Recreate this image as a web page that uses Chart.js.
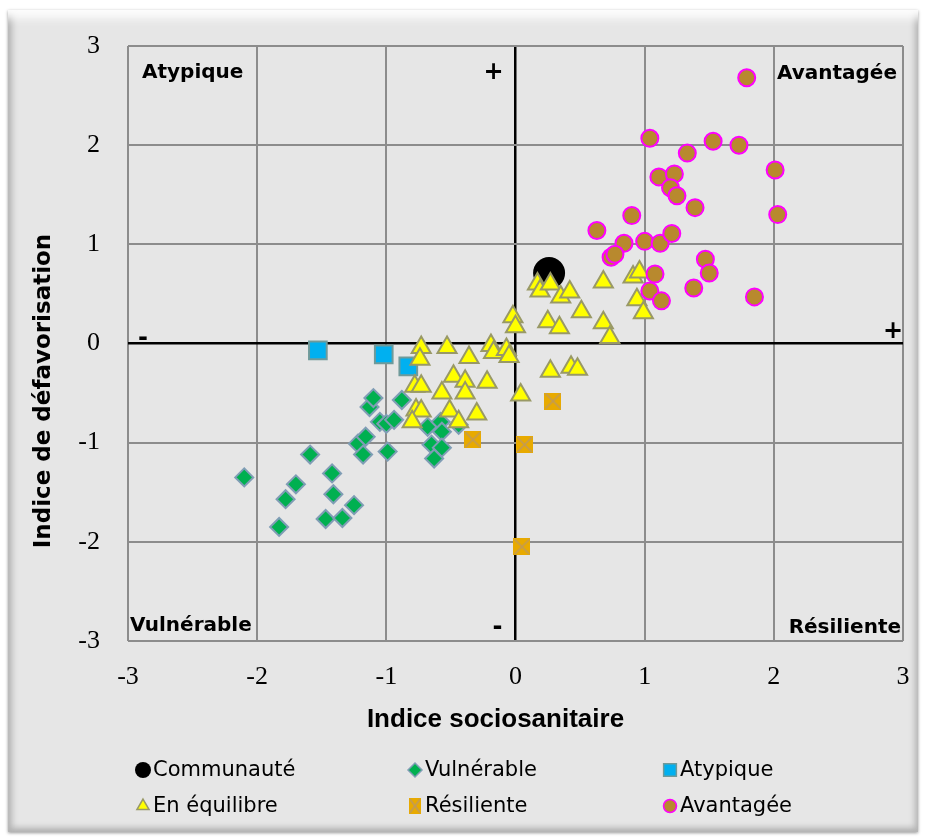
<!DOCTYPE html>
<html>
<head>
<meta charset="utf-8">
<script src="https://cdn.jsdelivr.net/npm/chart.js@4"></script>
<style>
  html, body { margin: 0; padding: 0; background: #fff; }
  #frame {
    position: absolute; left: 8px; top: 10px; width: 910px; height: 822px;
    background: #e6e6e6;
    box-shadow: inset 0 16px 10px -8px #fdfdfd, inset 7px 0 6px -3px #b4b4b4,
                inset -6px 0 6px -3px #b4b4b4, inset 0 -7px 6px -3px #b0b0b0,
                0 1px 3px #999;
  }
  #chart { position: absolute; left: 0; top: 0; }
</style>
</head>
<body>
<div id="frame"></div>
<canvas id="chart" width="927" height="838"></canvas>
<script>
// values
const communauteX = [0.26];
const communauteY = [0.71];

const vulnerableX = [-2.10, -1.83, -1.78, -1.70, -1.59, -1.42, -1.41, -1.47, -1.34, -1.25, -1.22, -1.16, -1.18, -1.13,
  -1.10, -1.05, -1.00, -0.94, -0.99, -0.88, -0.68, -0.58, -0.57, -0.65, -0.57, -0.63, -0.44];
const vulnerableY = [-1.35, -1.85, -1.57, -1.42, -1.12, -1.31, -1.52, -1.77, -1.76, -1.63, -1.01, -0.94, -1.12, -0.64,
  -0.55, -0.79, -0.81, -0.77, -1.09, -0.57, -0.84, -0.79, -0.89, -1.02, -1.05, -1.16, -0.82];

const atypiqueX = [-1.53, -1.02, -0.83];
const atypiqueY = [-0.07, -0.11, -0.23];

const equilibreX = [-0.73, -0.74, -0.53, -0.36, -0.19, -0.17, -0.07, -0.05, -0.02, 0.00, -0.78, -0.73, -0.48, -0.39,
  -0.39, -0.57, -0.22, -0.77, -0.73, -0.80, -0.51, -0.44, -0.30, 0.04, 0.27, 0.43, 0.48, 0.17, 0.19, 0.27, 0.35,
  0.42, 0.51, 0.25, 0.34, 0.68, 0.68, 0.73, 0.91, 0.96, 0.94, 0.99];
const equilibreY = [-0.04, -0.16, -0.04, -0.14, -0.02, -0.09, -0.06, -0.13, 0.27, 0.17, -0.43, -0.43, -0.33, -0.38,
  -0.50, -0.50, -0.39, -0.67, -0.68, -0.79, -0.68, -0.79, -0.71, -0.52, -0.28, -0.24, -0.26, 0.60, 0.53, 0.60, 0.47,
  0.52, 0.32, 0.22, 0.16, 0.62, 0.21, 0.06, 0.67, 0.72, 0.44, 0.31];

const resilienteX = [-0.33, 0.29, 0.07, 0.05];
const resilienteY = [-0.97, -0.58, -1.02, -2.05];

const avantageeX = [1.79, 1.04, 1.33, 1.53, 1.73, 2.01, 2.03, 1.11, 1.23, 1.20, 1.25, 1.39, 0.90, 0.63, 0.84, 1.00,
  1.12, 1.21, 0.74, 0.77, 1.47, 1.50, 1.08, 1.04, 1.13, 1.38, 1.85];
const avantageeY = [2.68, 2.07, 1.92, 2.04, 2.00, 1.75, 1.30, 1.68, 1.71, 1.57, 1.49, 1.37, 1.29, 1.14, 1.01, 1.03,
  1.01, 1.11, 0.87, 0.90, 0.85, 0.71, 0.70, 0.53, 0.43, 0.56, 0.47];

const axisTicks = [-3, -2, -1, 0, 1, 2, 3];

function pairs(xs, ys) {
  return xs.map((x, i) => ({ x: x, y: ys[i] }));
}

// orange square with a cross, like the Excel marker
function crossSquare(size) {
  const c = document.createElement('canvas');
  c.width = size; c.height = size;
  const g = c.getContext('2d');
  g.fillStyle = '#e8aa00';
  g.fillRect(0, 0, size, size);
  g.strokeStyle = '#c09a5a';
  g.lineWidth = 1.5;
  g.beginPath();
  g.moveTo(1, 1); g.lineTo(size - 1, size - 1);
  g.moveTo(size - 1, 1); g.lineTo(1, size - 1);
  g.stroke();
  return c;
}
const resMarker = crossSquare(17);
const resMarkerSmall = crossSquare(12);

const series = [
  { label: 'Communauté', xs: communauteX, ys: communauteY, style: 'circle', r: 16, fill: '#000000', border: '#000000', bw: 0, order: 6 },
  { label: 'Vulnérable', xs: vulnerableX, ys: vulnerableY, style: 'rectRot', r: 9, fill: '#00b050', border: '#7f9db5', bw: 2, order: 5 },
  { label: 'Atypique', xs: atypiqueX, ys: atypiqueY, style: 'rect', r: 12.5, fill: '#00b0f0', border: '#6f9a9a', bw: 2, order: 4 },
  { label: 'En équilibre', xs: equilibreX, ys: equilibreY, style: 'triangle', r: 11, fill: '#ffff00', border: '#999966', bw: 2, order: 3 },
  { label: 'Résiliente', xs: resilienteX, ys: resilienteY, style: resMarker, r: 9, fill: '#e8aa00', border: '#c09a5a', bw: 0, order: 2 },
  { label: 'Avantagée', xs: avantageeX, ys: avantageeY, style: 'circle', r: 8.5, fill: '#b8892e', border: '#ff00ff', bw: 2, order: 1 }
];

const tickFont = { family: 'Liberation Sans Narrow', size: 26 };

const annotations = {
  id: 'annotations',
  afterDraw(chart) {
    const ctx = chart.ctx;
    const a = chart.chartArea;
    ctx.save();
    ctx.fillStyle = '#000';
    ctx.textBaseline = 'middle';

    // quadrant names
    ctx.font = 'bold 20px "DejaVu Sans"';
    ctx.textAlign = 'left';
    ctx.fillText('Atypique', a.left + 14, a.top + 27);
    ctx.fillText('Vulnérable', a.left + 2, a.bottom - 15);
    ctx.textAlign = 'right';
    ctx.fillText('Avantagée', a.right - 6, a.top + 28);
    ctx.fillText('Résiliente', a.right - 2, a.bottom - 13);

    // signs
    const x0 = chart.scales.x.getPixelForValue(0);
    const y0 = chart.scales.y.getPixelForValue(0);
    ctx.textAlign = 'center';
    ctx.font = 'bold 24px "DejaVu Sans"';
    ctx.fillText('+', x0 - 22, a.top + 27);
    ctx.fillText('+', a.right - 10, y0 - 12);
    ctx.fillText('-', a.left + 15, y0 - 5);
    ctx.fillText('-', x0 - 18, a.bottom - 13);

    // axis titles
    ctx.font = 'bold 26px "Liberation Sans"';
    ctx.fillText('Indice sociosanitaire', x0 - 20, 720);
    ctx.save();
    ctx.translate(44, 391);
    ctx.rotate(-Math.PI / 2);
    ctx.font = 'bold 23px "DejaVu Sans"';
    ctx.fillText('Indice de défavorisation', 0, 0);
    ctx.restore();

    // legend in three columns
    const cols = [143, 415, 670];
    const rows = [770, 806];
    ctx.font = '21px "DejaVu Sans"';
    ctx.textAlign = 'left';
    series.forEach((s, i) => {
      const mx = cols[i % 3];
      const my = rows[Math.floor(i / 3)];
      ctx.fillStyle = s.fill;
      ctx.strokeStyle = s.border;
      ctx.lineWidth = s.bw ? 1.5 : 0;
      if (typeof s.style === 'string') {
        const r = s.style === 'circle' ? (s.bw ? 6.5 : 8) : (s.style === 'rect' ? 9 : 7);
        Chart.helpers.drawPoint(ctx, { pointStyle: s.style, rotation: 0, radius: r, borderWidth: s.bw ? 1.5 : 0 }, mx, my);
      } else {
        ctx.drawImage(resMarkerSmall, mx - 6, my - 8, 12, 16);
      }
      ctx.fillStyle = '#000';
      ctx.fillText(s.label, mx + 10, my + 1);
    });
    ctx.restore();
  }
};

new Chart(document.getElementById('chart'), {
  type: 'scatter',
  data: {
    datasets: series.map(s => ({
      label: s.label,
      data: pairs(s.xs, s.ys),
      pointStyle: s.style,
      pointRadius: s.r,
      pointHoverRadius: s.r,
      backgroundColor: s.fill,
      borderColor: s.border,
      borderWidth: s.bw,
      order: s.order
    }))
  },
  options: {
    responsive: false,
    devicePixelRatio: 1,
    animation: false,
    events: [],
    layout: { padding: { left: 0, top: 46, right: 24, bottom: 79 } },
    plugins: { legend: { display: false }, tooltip: { enabled: false } },
    scales: {
      x: {
        type: 'linear', min: -3, max: 3,
        afterBuildTicks: sc => { sc.ticks = axisTicks.map(v => ({ value: v })); },
        afterFit: sc => { sc.height = 118; sc.paddingLeft = 0; sc.paddingRight = 0; },
        border: { display: false },
        grid: {
          drawTicks: false,
          color: c => (c.tick && c.tick.value === 0 ? '#000000' : '#8c8c8c'),
          lineWidth: c => (c.tick && c.tick.value === 0 ? 2.5 : 2)
        },
        ticks: { color: '#000', font: tickFont, padding: 21 }
      },
      y: {
        type: 'linear', min: -3, max: 3,
        afterBuildTicks: sc => { sc.ticks = axisTicks.map(v => ({ value: v })); },
        afterFit: sc => { sc.width = 128; sc.paddingTop = 0; sc.paddingBottom = 0; },
        border: { display: false },
        grid: {
          drawTicks: false,
          color: c => (c.tick && c.tick.value === 0 ? '#000000' : '#8c8c8c'),
          lineWidth: c => (c.tick && c.tick.value === 0 ? 2.5 : 2)
        },
        ticks: { color: '#000', font: tickFont, padding: 28 }
      }
    }
  },
  plugins: [annotations]
});
</script>
</body>
</html>
